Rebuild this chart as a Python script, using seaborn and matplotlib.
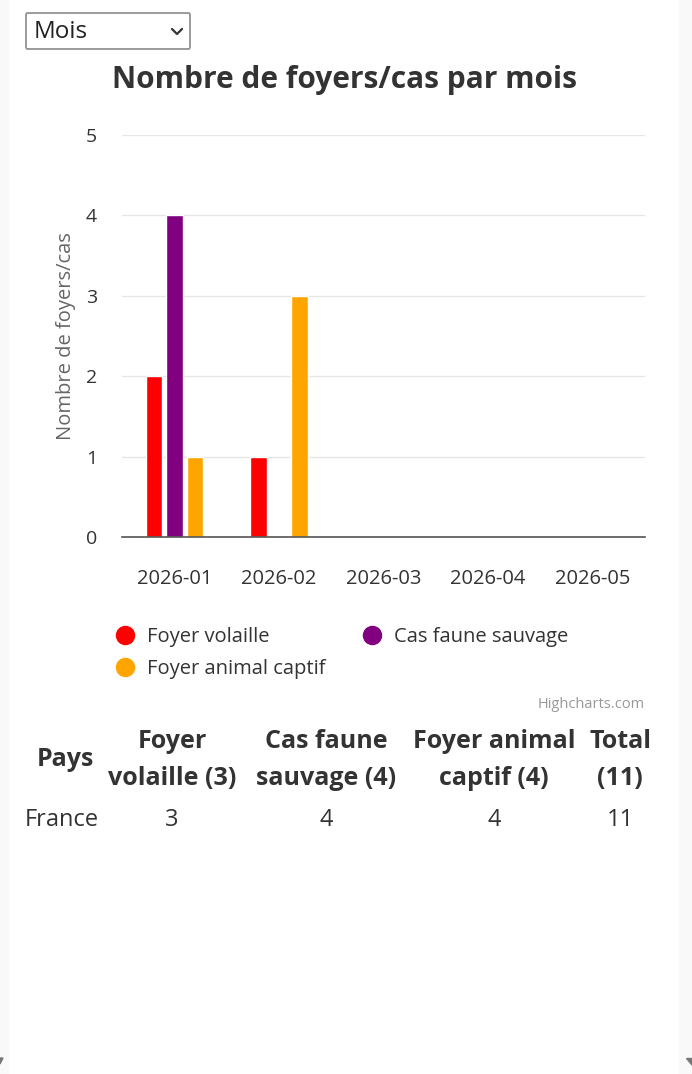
import matplotlib
matplotlib.use("Agg")
import matplotlib.pyplot as plt
import seaborn as sns
import pandas as pd
from matplotlib.patches import FancyBboxPatch, Rectangle, Polygon
from matplotlib.lines import Line2D

# ---- data ----
months = ["2026-01", "2026-02", "2026-03", "2026-04", "2026-05"]
foyer_volaille = [2, 1, 0, 0, 0]
cas_faune_sauvage = [4, 0, 0, 0, 0]
foyer_animal_captif = [1, 3, 0, 0, 0]
series_names = ["Foyer volaille", "Cas faune sauvage", "Foyer animal captif"]
series_colors = ["#ff0000", "#800080", "#ffa500"]
title = "Nombre de foyers/cas par mois"
y_label = "Nombre de foyers/cas"
y_ticks = [0, 1, 2, 3, 4, 5]
table_header = ["Pays", "Foyer\nvolaille (3)", "Cas faune\nsauvage (4)", "Foyer animal\ncaptif (4)", "Total\n(11)"]
table_row = ["France", "3", "4", "4", "11"]

rows = []
for name, vals in zip(series_names, [foyer_volaille, cas_faune_sauvage, foyer_animal_captif]):
    for m, v in zip(months, vals):
        rows.append({"Mois": m, "Valeur": v, "Série": name})
df = pd.DataFrame(rows)

sns.set_style("white")
plt.rcParams['font.family'] = ['Open Sans', 'DejaVu Sans']

W, H = 692, 1074
fig = plt.figure(figsize=(W / 100, H / 100), dpi=100)
fig.patch.set_facecolor("white")

def fx(x):
    return x / W

def fy(y):
    return 1 - y / H

# side strips
fig.patches.append(Rectangle((0, 0), fx(8), 1, transform=fig.transFigure, color="#f9f9f9", zorder=0))
fig.patches.append(Rectangle((fx(679), 0), fx(13), 1, transform=fig.transFigure, color="#f9f9f9", zorder=0))
fig.patches.append(Polygon([(fx(0), fy(1058)), (fx(3), fy(1058)), (fx(0), fy(1064))], closed=True,
                           transform=fig.transFigure, color="#777777", zorder=1))
fig.patches.append(Polygon([(fx(686), fy(1058)), (fx(692), fy(1058)), (fx(692), fy(1065))], closed=True,
                           transform=fig.transFigure, color="#777777", zorder=1))

# dropdown
fig.patches.append(FancyBboxPatch((fx(26), fy(49)), fx(164), fy(13) - fy(49),
                                  boxstyle="round,pad=0,rounding_size=0.002",
                                  transform=fig.transFigure, facecolor="white",
                                  edgecolor="#8a8a8a", linewidth=1.2, zorder=2))
fig.text(fx(34), fy(32), "Mois", fontsize=17.5, color="#222222", va="center", ha="left", zorder=3)
fig.lines.append(Line2D([fx(172), fx(177), fx(182)], [fy(29), fy(34), fy(29)],
                        transform=fig.transFigure, color="#333333", linewidth=1.6, zorder=3))

# chart axes
ax = fig.add_axes([fx(122), fy(537), fx(645) - fx(122), fy(135) - fy(537)])
sns.barplot(data=df, x="Mois", y="Valeur", hue="Série", hue_order=series_names,
            palette=series_colors, width=0.59, gap=0.2, ax=ax, saturation=1,
            legend=False, order=months)
ax.set_ylim(0, 5)
ax.set_xlim(-0.5, len(months) - 0.5)
ax.set_yticks(y_ticks)
ax.yaxis.grid(True, color="#e6e6e6", linewidth=1)
ax.set_axisbelow(True)
for s in ["top", "right", "left"]:
    ax.spines[s].set_visible(False)
ax.spines["bottom"].set_color("#555555")
ax.spines["bottom"].set_linewidth(1.2)
ax.tick_params(axis="both", length=0)
ax.tick_params(axis="y", labelsize=14, labelcolor="#333333", pad=18)
ax.tick_params(axis="x", labelsize=14.5, labelcolor="#333333", pad=23)
ax.set_xlabel("")
ax.set_ylabel(y_label, fontsize=14.5, color="#666666")
axw = fx(645) - fx(122)
ax.yaxis.set_label_coords((fx(76) - fx(122)) / axw, 0.5)

fig.text(fx(344), fy(80), title, fontsize=21.5, fontweight="bold", color="#333333",
         ha="center", va="center")

# legend
handles = [Line2D([0], [0], marker="o", linestyle="", markersize=13,
                  markerfacecolor=c, markeredgecolor=c) for c in series_colors]
order = [0, 2, 1]
leg = ax.legend([handles[i] for i in order], [series_names[i] for i in order],
                ncol=2, frameon=False, fontsize=14.5, labelcolor="#333333",
                loc="upper left", bbox_to_anchor=(fx(97), fy(609)),
                bbox_transform=fig.transFigure, handletextpad=0.6,
                columnspacing=1.8, labelspacing=0.58, handlelength=1.0)

fig.text(fx(645), fy(704), "Highcharts.com", fontsize=10.5, color="#999999", ha="right", va="center")

# table
col_x = [65, 172, 326, 494, 620]
for i, (hdr, val) in enumerate(zip(table_header, table_row)):
    fig.text(fx(col_x[i]), fy(760), hdr, fontsize=18, fontweight="bold", color="#333333",
             ha="center", va="center", linespacing=1.63)
    if i == 0:
        fig.text(fx(25), fy(820), val, fontsize=17, color="#333333", ha="left", va="center")
    else:
        fig.text(fx(col_x[i]), fy(820), val, fontsize=17, color="#333333", ha="center", va="center")

fig.savefig("out.png", dpi=100, facecolor="white")
